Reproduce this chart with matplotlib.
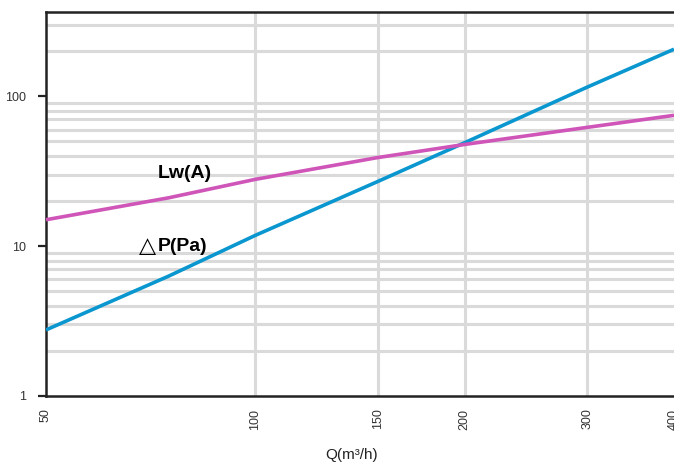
import numpy as np
import matplotlib.pyplot as plt
from matplotlib.ticker import FixedLocator, NullFormatter, NullLocator

plt.rcParams['font.family'] = ['Liberation Sans', 'DejaVu Sans']

q = [50, 75, 100, 150, 200, 300, 400]
dp = [2.76, 6.3, 11.8, 27.0, 49.0, 115, 206]
lw = [15.0, 21.0, 27.9, 39.0, 47.7, 62.0, 74.6]

xticks = [50, 100, 150, 200, 300, 400]
yticks = [1, 10, 100]

fig = plt.figure(figsize=(6.74, 4.68), dpi=100)
ax = fig.add_axes([46/674, 72/468, 1 - 46/674, (396 - 12)/468])

ax.set_xscale('log')
ax.set_yscale('log')
ax.set_xlim(50, 400)
ax.set_ylim(1, 365)

# grid
ax.yaxis.set_minor_locator(FixedLocator([m * 10**e for e in range(0, 3) for m in range(2, 10)] + [100]))
ax.yaxis.set_minor_formatter(NullFormatter())
ax.grid(True, which='minor', axis='y', color='#dadada', lw=2.2, zorder=0)
for x in [100, 150, 200, 300]:
    ax.axvline(x, color='#dadada', lw=2.2, zorder=0)

ax.plot(q, dp, color='#0a96cf', lw=2.6, zorder=3, solid_capstyle='butt')
ax.plot(q, lw, color='#cf55b8', lw=2.6, zorder=3, solid_capstyle='butt')

ax.xaxis.set_major_locator(FixedLocator(xticks))
ax.xaxis.set_minor_locator(NullLocator())
ax.set_xticklabels([str(v) for v in xticks], rotation=90, fontsize=9, color='#333333')
ax.tick_params(axis='x', length=0, pad=9)
ax.yaxis.set_major_locator(FixedLocator(yticks))
ax.set_yticklabels([str(v) for v in yticks], fontsize=9, color='#333333')
ax.tick_params(axis='y', which='major', length=6, width=1.6, color='#222222', pad=8)
ax.tick_params(axis='y', which='minor', length=0)

for s in ['left', 'bottom', 'top']:
    ax.spines[s].set_linewidth(1.8)
    ax.spines[s].set_color('#222222')
ax.spines['right'].set_visible(False)

ax.text(72.5, 30.5, 'Lw(A)', fontsize=14, fontweight='bold', ha='left', va='center')
ax.text(68, 10.0, '△', fontsize=16, ha='left', va='center')
ax.text(72.4, 10.0, 'P(Pa)', fontsize=14, fontweight='bold', ha='left', va='center')

ax.set_xlabel('Q(m³/h)', fontsize=11, color='#222222')
ax.xaxis.set_label_coords((352 - 46) / 628, -0.135)

fig.savefig('out.png', dpi=100)
